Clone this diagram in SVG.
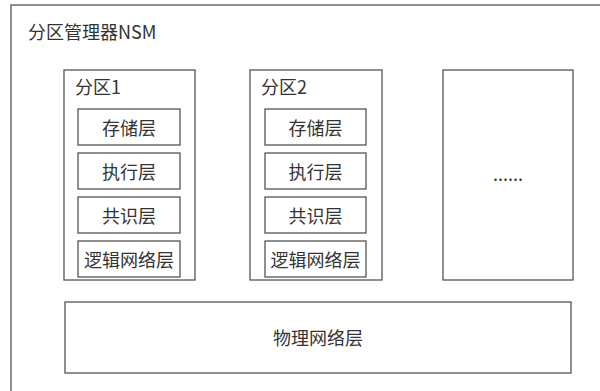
<svg xmlns="http://www.w3.org/2000/svg" width="600" height="391" viewBox="0 0 600 391">
<style>
.b{fill:#fff;stroke:#555;stroke-width:1.3}
.t{font-family:"Noto Sans CJK SC","Noto Sans",sans-serif;font-size:18px;fill:#333}
.c{text-anchor:middle;dominant-baseline:central}
.m{dominant-baseline:central}
</style>
<rect width="600" height="391" fill="#fff"/>
<g id="nsm">
<rect class="b" x="11" y="5" width="610" height="410"/>
<text class="t m" x="28" y="31">分区管理器NSM</text>
</g>
<g id="p1">
<rect class="b" x="64" y="70" width="131" height="210"/>
<text class="t m" x="75" y="86">分区1</text>
</g>
<g id="p1-s"><rect class="b" x="78" y="109" width="102" height="36"/><text class="t c" x="129" y="127">存储层</text></g>
<g id="p1-e"><rect class="b" x="78" y="153" width="102" height="36"/><text class="t c" x="129" y="171">执行层</text></g>
<g id="p1-c"><rect class="b" x="78" y="197" width="102" height="36"/><text class="t c" x="129" y="215">共识层</text></g>
<g id="p1-l"><rect class="b" x="78" y="241" width="102" height="36"/><text class="t c" x="129" y="259">逻辑网络层</text></g>
<g id="p2">
<rect class="b" x="250" y="70" width="132" height="210"/>
<text class="t m" x="261" y="86">分区2</text>
</g>
<g id="p2-s"><rect class="b" x="265" y="109" width="101" height="36"/><text class="t c" x="315.500" y="127">存储层</text></g>
<g id="p2-e"><rect class="b" x="265" y="153" width="101" height="36"/><text class="t c" x="315.500" y="171">执行层</text></g>
<g id="p2-c"><rect class="b" x="265" y="197" width="101" height="36"/><text class="t c" x="315.500" y="215">共识层</text></g>
<g id="p2-l"><rect class="b" x="265" y="241" width="101" height="36"/><text class="t c" x="315.500" y="259">逻辑网络层</text></g>
<g id="pn">
<rect class="b" x="443" y="70" width="130" height="210"/>
<text class="t c" x="508" y="173">......</text>
</g>
<g id="phys">
<rect class="b" x="65" y="302" width="506" height="71"/>
<text class="t c" x="318" y="337">物理网络层</text>
</g>
<g id="connectors"></g>
</svg>
